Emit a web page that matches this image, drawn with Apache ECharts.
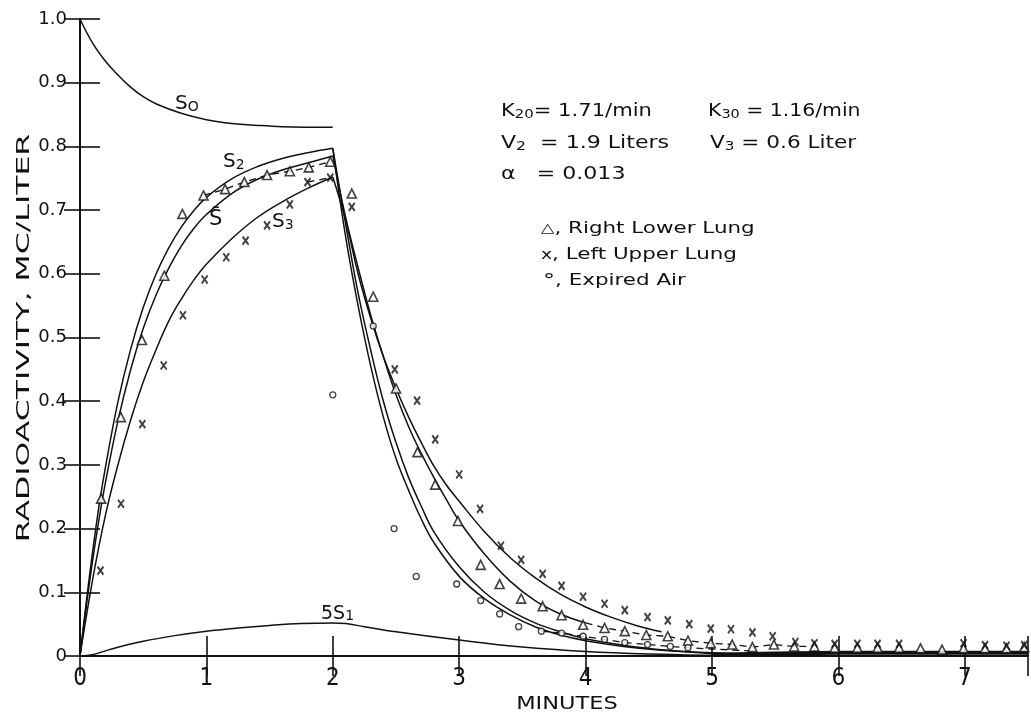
<!DOCTYPE html>
<html><head><meta charset="utf-8">
<script src="https://cdn.jsdelivr.net/npm/echarts/dist/echarts.min.js"></script>
<style>html,body{margin:0;padding:0;background:#fff}#c{width:1031px;height:714px}</style>
</head><body><div id="c"></div>
<script>
// ---------- DATA ----------
const xTickValues = [0, 1, 2, 3, 4, 5, 6, 7];
const yTickLabels = ['0', '0.1', '0.2', '0.3', '0.4', '0.5', '0.6', '0.7', '0.8', '0.9', '1.0'];

// S0 curve (0 - 2 min)
const curveS0 = [[0,1.0],[0.1,0.962],[0.2,0.934],[0.3,0.912],[0.4,0.893],[0.5,0.878],[0.6,0.867],[0.8,0.852],[1.0,0.842],[1.2,0.836],[1.4,0.833],[1.6,0.831],[2.0,0.830]];
// S2: rise, then fast decay
const riseS2 = [[0,0],[0.05,0.085],[0.1,0.164],[0.15,0.235],[0.2,0.295],[0.3,0.399],[0.4,0.481],[0.5,0.547],[0.6,0.599],[0.7,0.640],[0.8,0.673],[0.9,0.699],[1.0,0.720],[1.2,0.749],[1.4,0.768],[1.6,0.781],[1.8,0.790],[2.0,0.797]];
const decayS2 = [[2.0,0.797],[2.1,0.68],[2.2,0.57],[2.3,0.48],[2.4,0.40],[2.5,0.335],[2.6,0.28],[2.7,0.235],[2.8,0.195],[3.0,0.14],[3.2,0.10],[3.4,0.072],[3.6,0.052],[3.8,0.038],[4.0,0.027],[4.3,0.017],[4.6,0.010],[5.0,0.005],[5.5,0.002]];
// second inner decay curve
const decayInner = [[2.0,0.797],[2.1,0.66],[2.2,0.55],[2.3,0.455],[2.4,0.375],[2.5,0.31],[2.6,0.26],[2.7,0.215],[2.8,0.178],[3.0,0.125],[3.2,0.09],[3.4,0.065],[3.6,0.046],[3.8,0.033],[4.0,0.024],[4.3,0.015],[4.6,0.009],[5.0,0.004],[5.5,0.001]];
// S-bar: rise, then decay through the triangles
const riseSbar = [[0,0],[0.05,0.078],[0.1,0.150],[0.15,0.214],[0.2,0.271],[0.3,0.369],[0.4,0.449],[0.5,0.514],[0.6,0.566],[0.7,0.608],[0.8,0.643],[0.9,0.671],[1.0,0.693],[1.2,0.726],[1.4,0.748],[1.6,0.763],[1.8,0.774],[2.0,0.785]];
const decaySbar = [[2.0,0.785],[2.1,0.69],[2.2,0.61],[2.3,0.535],[2.4,0.47],[2.5,0.41],[2.6,0.36],[2.7,0.318],[2.8,0.28],[2.9,0.245],[3.0,0.212],[3.2,0.16],[3.4,0.118],[3.6,0.087],[3.8,0.066],[4.0,0.052]];
const tailSbar = [[4.0,0.052],[4.15,0.044],[4.31,0.039],[4.48,0.033],[4.65,0.031],[4.81,0.024],[4.99,0.020],[5.16,0.018],[5.32,0.014],[5.49,0.018],[5.65,0.015],[5.81,0.015]];
// S3: rise, then slow decay
const riseS3 = [[0,0],[0.1,0.12],[0.2,0.22],[0.3,0.30],[0.4,0.37],[0.5,0.43],[0.6,0.48],[0.7,0.525],[0.8,0.56],[0.9,0.59],[1.0,0.615],[1.2,0.655],[1.4,0.688],[1.6,0.713],[1.8,0.734],[2.0,0.752]];
const decayS3 = [[2.0,0.752],[2.1,0.685],[2.2,0.60],[2.3,0.53],[2.4,0.47],[2.5,0.42],[2.6,0.375],[2.7,0.335],[2.8,0.298],[2.9,0.268],[3.0,0.243],[3.2,0.195],[3.4,0.155],[3.6,0.123],[3.8,0.097],[4.0,0.077],[4.2,0.061],[4.4,0.048],[4.6,0.038]];
// 5 x S1
const curve5S1 = [[0,0],[0.1,0.002],[0.25,0.011],[0.5,0.023],[0.75,0.032],[1.0,0.039],[1.25,0.044],[1.5,0.048],[1.75,0.051],[2.0,0.052],[2.1,0.051],[2.25,0.046],[2.5,0.038],[3.0,0.025],[3.5,0.014],[4.0,0.007],[4.5,0.003],[5.0,0.001],[5.5,0]];
// dashed connectors
const dashTriRise = [[0.977,0.723],[1.148,0.733],[1.30,0.744],[1.48,0.755],[1.66,0.761],[1.81,0.767],[1.98,0.776]];
const dashXRise = [[1.80,0.744],[1.98,0.751]];
const dashCircle = [[3.65,0.039],[3.81,0.036],[3.98,0.031],[4.15,0.026],[4.31,0.021],[4.49,0.018],[4.67,0.015],[4.81,0.013],[5.0,0.011],[5.3,0.008]];
const baseTail = [[5.0,0.002],[5.5,0.004],[6.0,0.005],[7.5,0.005]];

// markers
const rightLowerLung = [[0.167,0.247],[0.323,0.375],[0.49,0.496],[0.667,0.597],[0.81,0.694],[0.977,0.723],[1.148,0.733],[1.30,0.744],[1.48,0.755],[1.66,0.761],[1.81,0.767],[1.98,0.776],
  [2.15,0.726],[2.32,0.564],[2.50,0.420],[2.67,0.32],[2.81,0.269],[2.99,0.212],[3.17,0.143],[3.32,0.113],[3.49,0.090],[3.66,0.078],[3.81,0.064],[3.98,0.049],[4.15,0.044],[4.31,0.039],[4.48,0.033],[4.65,0.031],[4.81,0.024],[4.99,0.020],[5.16,0.018],[5.32,0.014],[5.49,0.018],[5.65,0.015],[5.81,0.015],[5.97,0.013],[6.15,0.013],[6.31,0.013],[6.48,0.013],[6.65,0.012],[6.82,0.010],[6.99,0.012],[7.16,0.012],[7.33,0.012],[7.47,0.014]];
const leftUpperLung = [[0.162,0.134],[0.324,0.239],[0.493,0.364],[0.662,0.456],[0.814,0.535],[0.986,0.591],[1.157,0.626],[1.31,0.652],[1.48,0.676],[1.66,0.709],[1.80,0.744],[1.98,0.751],
  [2.15,0.705],[2.49,0.450],[2.667,0.401],[2.81,0.340],[3.0,0.285],[3.165,0.231],[3.33,0.173],[3.49,0.151],[3.66,0.129],[3.81,0.110],[3.98,0.093],[4.15,0.082],[4.31,0.072],[4.49,0.061],[4.65,0.056],[4.82,0.050],[4.99,0.043],[5.15,0.042],[5.32,0.037],[5.48,0.031],[5.66,0.022],[5.81,0.020],[5.97,0.019],[6.15,0.019],[6.31,0.019],[6.48,0.019],[6.99,0.020],[7.16,0.017],[7.33,0.016],[7.47,0.017]];
const expiredAir = [[2.0,0.41],[2.32,0.518],[2.485,0.20],[2.66,0.125],[2.98,0.113],[3.17,0.087],[3.32,0.066],[3.47,0.046],[3.65,0.039],[3.81,0.036],[3.98,0.031],[4.15,0.026],[4.31,0.021],[4.49,0.018],[4.67,0.015],[4.81,0.013]];

// ---------- CHART ----------
const chart = echarts.init(document.getElementById('c'), null, {renderer: 'canvas'});
const INK = '#111';
const FONT = 'DejaVu Sans';
function line(data, opts) {
  return Object.assign({type: 'line', data: data, showSymbol: false, symbol: 'none', smooth: 0.4,
    lineStyle: {color: INK, width: 1.5}, silent: true, z: 3}, opts || {});
}
function dashed(data, w) {
  return line(data, {smooth: false, lineStyle: {color: INK, width: w || 1.3, type: [7, 5]}});
}
const xPath = 'path://M0,0L10,10M10,0L0,10';

function richText(x, y, text, size, scaleX, extraRich) {
  const rich = Object.assign({
    m: {fontSize: size, fontFamily: FONT, lineHeight: size + 8, fill: INK},
    s: {fontSize: Math.round(size * 0.72), fontFamily: FONT, verticalAlign: 'bottom', lineHeight: Math.round(size * 0.72), fill: INK}
  }, extraRich || {});
  return {type: 'text', x: x, y: y, scaleX: scaleX || 1, silent: true, z: 10,
    style: {text: text, rich: rich, fill: INK, align: 'left', verticalAlign: 'middle', font: size + 'px ' + FONT}};
}

chart.setOption({
  animation: false,
  backgroundColor: '#fff',
  grid: {left: 80, right: 3, top: 19, bottom: 58, containLabel: false},
  xAxis: [
    {type: 'value', min: 0, max: 7.5, interval: 1, position: 'bottom',
      axisLine: {show: true, lineStyle: {color: INK, width: 2}},
      axisTick: {show: true, inside: true, length: 20, lineStyle: {color: INK, width: 1.6}},
      axisLabel: {show: true, color: INK, fontSize: 24, fontFamily: 'Liberation Sans Narrow, DejaVu Sans Condensed, sans-serif', margin: 11,
        formatter: v => (xTickValues.indexOf(v) >= 0 ? String(v) : '')},
      splitLine: {show: false}},
    {type: 'value', min: 0, max: 7.5, interval: 1, position: 'top',
      axisLine: {show: true, lineStyle: {color: INK, width: 2}},
      axisTick: {show: true, inside: true, length: 20, lineStyle: {color: INK, width: 1.6}},
      axisLabel: {show: false}, splitLine: {show: false}}
  ],
  yAxis: [
    {type: 'value', min: 0, max: 1.0, interval: 0.1, position: 'left',
      axisLine: {show: true, lineStyle: {color: INK, width: 2}},
      axisTick: {show: true, inside: true, length: 20, lineStyle: {color: INK, width: 1.6}},
      axisLabel: {show: true, color: INK, fontSize: 18, fontFamily: FONT, margin: 13,
        formatter: v => yTickLabels[Math.round(v * 10)]},
      splitLine: {show: false}},
    {type: 'value', min: 0, max: 1.0, interval: 0.1, position: 'right',
      axisLine: {show: true, lineStyle: {color: INK, width: 2}},
      axisTick: {show: true, inside: true, length: 16, lineStyle: {color: INK, width: 1.6}},
      axisLabel: {show: false}, splitLine: {show: false}}
  ],
  series: [
    line(curveS0),
    line(riseS2), line(decayS2),
    line(decayInner),
    line(riseSbar), line(decaySbar),
    dashed(tailSbar),
    line(riseS3), line(decayS3),
    line(curve5S1),
    dashed(dashTriRise),
    dashed(dashXRise),
    dashed(dashCircle),
    line(baseTail, {smooth: false, lineStyle: {color: INK, width: 4}}),
    {type: 'scatter', data: rightLowerLung, symbol: 'triangle', symbolSize: 9, silent: true, z: 5,
      itemStyle: {color: '#fff', borderColor: INK, borderWidth: 1.6}},
    {type: 'scatter', data: leftUpperLung, symbol: xPath, symbolSize: [6, 8], silent: true, z: 5,
      itemStyle: {color: 'rgba(0,0,0,0)', borderColor: INK, borderWidth: 2}},
    {type: 'scatter', data: expiredAir, symbol: 'circle', symbolSize: 6, silent: true, z: 5,
      itemStyle: {color: '#fff', borderColor: INK, borderWidth: 1.3}}
  ],
  graphic: [
    // axis titles
    {type: 'text', x: 24, y: 338, rotation: Math.PI / 2, scaleX: 1.75, silent: true,
      style: {text: 'RADIOACTIVITY, MC/LITER', font: '18px ' + FONT, fill: INK, align: 'center', verticalAlign: 'middle'}},
    {type: 'text', x: 567, y: 704, scaleX: 1.25, silent: true,
      style: {text: 'MINUTES', font: '18px ' + FONT, fill: INK, align: 'center', verticalAlign: 'middle'}},
    // curve labels
    richText(175, 104, 'S{s|O}', 20, 1.0),
    richText(223, 162, 'S{s|2}', 20, 1.0),
    richText(209, 220, 'S\u0304', 21, 1.0),
    richText(272, 222, 'S{s|3}', 20, 1.0),
    richText(321, 614, '5S{s|1}', 19, 1.0),
    // parameters
    richText(501, 112, 'K{s|20}= 1.71/min', 17, 1.24),
    richText(708, 112, 'K{s|30} = 1.16/min', 17, 1.2),
    richText(501, 144, 'V{s|2}  = 1.9 Liters', 17, 1.3),
    richText(710, 144, 'V{s|3} = 0.6 Liter', 17, 1.27),
    richText(501, 175, '\u03B1   = 0.013', 17, 1.3),
    // marker key
    richText(541, 229, '{t|\u25B3}, Right Lower Lung', 16, 1.34, {t: {fontSize: 13, fontFamily: FONT, fill: INK}}),
    richText(541, 255, '{t|x}, Left Upper Lung', 16, 1.34, {t: {fontSize: 14, fontFamily: FONT, fill: INK}}),
    richText(543, 281, '{t|\u00B0}, Expired Air', 16, 1.34, {t: {fontSize: 18, fontFamily: FONT, fill: INK}})
  ]
});
</script>
</body></html>
